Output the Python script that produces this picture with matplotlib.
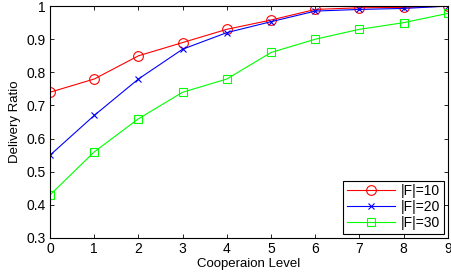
import matplotlib
matplotlib.use('Agg')
import matplotlib.pyplot as plt

level = [0, 1, 2, 3, 4, 5, 6, 7, 8, 9]
f10 = [0.74, 0.78, 0.85, 0.89, 0.93, 0.958, 0.99, 0.995, 0.996, 1.0]
f20 = [0.55, 0.67, 0.78, 0.87, 0.92, 0.953, 0.985, 0.99, 0.993, 1.0]
f30 = [0.43, 0.56, 0.66, 0.74, 0.78, 0.86, 0.90, 0.93, 0.95, 0.978]
labels = ['|F|=10', '|F|=20', '|F|=30']

plt.rcParams['font.family'] = ['Liberation Sans', 'DejaVu Sans']
plt.rcParams['font.size'] = 8

fig = plt.figure(figsize=(4.51, 2.78), dpi=100)
ax = fig.add_axes([0.111, 0.144, 0.882, 0.834])

ax.plot(level, f10, '-o', color='r', lw=0.8, ms=7, mfc='none', mew=0.8, label=labels[0])
ax.plot(level, f20, '-x', color='b', lw=0.8, ms=5, mew=0.8, label=labels[1])
ax.plot(level, f30, '-s', color=(0, 1, 0), lw=0.8, ms=6, mfc='none', mew=0.8, label=labels[2])

ax.set_xlim(0, 9)
ax.set_ylim(0.3, 1)
ax.set_xticks(level)
ax.set_yticks([0.3, 0.4, 0.5, 0.6, 0.7, 0.8, 0.9, 1.0])
ax.set_yticklabels(['0.3', '0.4', '0.5', '0.6', '0.7', '0.8', '0.9', '1'])
ax.tick_params(direction='in', top=True, right=True, length=3, width=0.6, labelsize=10, pad=3)
for s in ax.spines.values():
    s.set_linewidth(0.8)

ax.set_xlabel('Cooperaion Level', fontsize=9.5, labelpad=1)
ax.set_ylabel('Delivery Ratio', fontsize=9.5, labelpad=4)

leg = ax.legend(loc='lower right', fancybox=False, edgecolor='k', framealpha=1,
                fontsize=10, borderaxespad=0.3, handlelength=3.5, labelspacing=0.15,
                borderpad=0.25, handletextpad=0.4)
leg.get_frame().set_linewidth(0.8)

fig.savefig('out.png', dpi=100)
